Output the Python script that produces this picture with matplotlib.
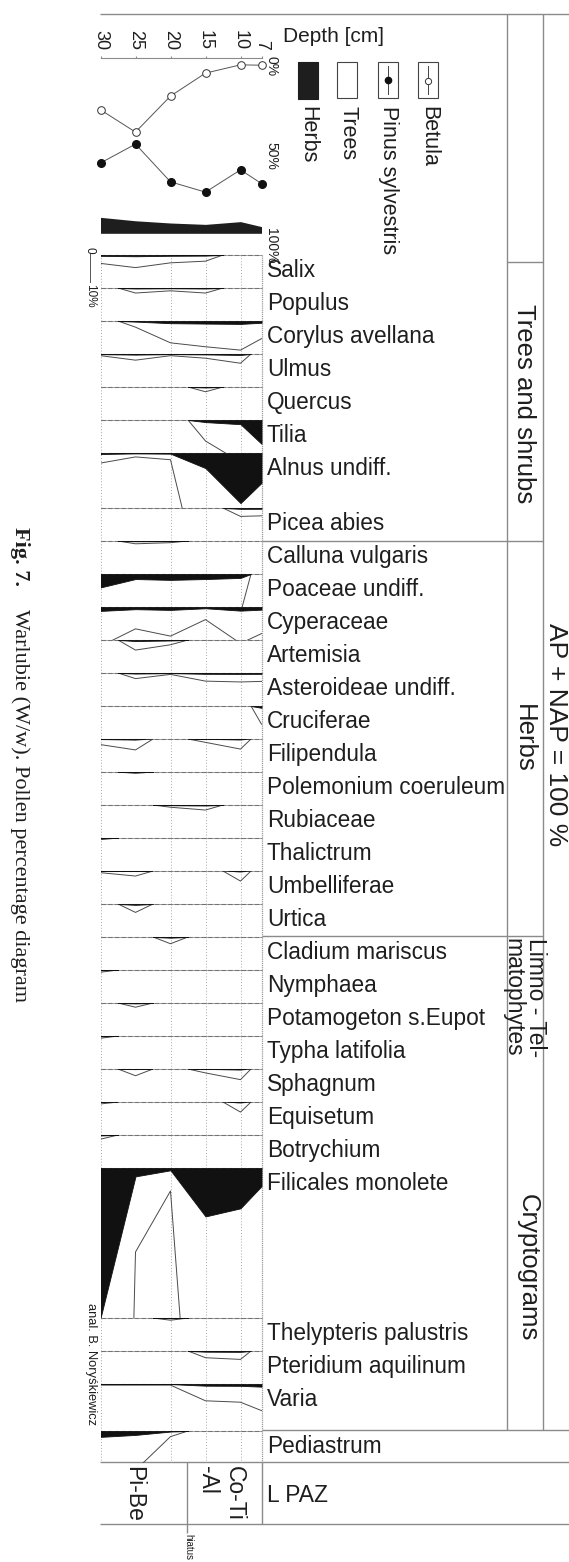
import matplotlib.pyplot as plt
from matplotlib.patches import Rectangle
import numpy as np

plt.rcParams['font.family'] = ['Liberation Sans', 'DejaVu Sans']

W, H = 569, 1562
INK = '#1e1e1e'
FRAME = '#8a8a8a'

# sampling depths [cm]
depth = [30, 25, 20, 15, 10, 7]
grid_depths = [30, 20, 15, 10]

# summary diagram [%]
betula = [28, 41, 20, 6.6, 1.8, 2.0]
pinus = [59, 48, 70, 76, 63, 71]
herbs = [9.3, 7.3, 6.0, 5.2, 6.8, 3.9]

# taxa [%], one value per depth
salix = [0.3, 0.45, 0.28, 0.22, 0, 0]
populus = [0, 0.18, 0.1, 0.18, 0, 0]
corylus = [0, 0.22, 0.78, 0.92, 1.04, 0.63]
ulmus = [0.06, 0.22, 0.06, 0.15, 0.33, 0]
quercus = [0, 0, 0, 0.17, 0, 0]
tilia = [0, 0, 0, 0.75, 1.5, 8.5]
alnus = [0.36, 0.14, 0.24, 5.4, 17.9, 10.7]
picea = [0, 0, 0, 0, 0.3, 0.28]
calluna = [0, 0.1, 0.06, 0, 0, 0]
poaceae = [4.8, 1.8, 2.1, 1.8, 1.4, 0]
cyperaceae = [1.4, 0.78, 1.04, 0.45, 1.3, 0.95]
artemisia = [0, 0.36, 0.17, 0, 0, 0]
asteroideae = [0, 0.2, 0.05, 0.29, 0.32, 0.3]
cruciferae = [0, 0, 0, 0, 0, 0.65]
filipendula = [0.2, 0.39, 0, 0.12, 0.36, 0]
polemonium = [0, 0.05, 0, 0, 0, 0]
rubiaceae = [0, 0, 0.08, 0.18, 0, 0]
thalictrum = [0.06, 0, 0, 0, 0, 0]
umbelliferae = [0.06, 0.18, 0, 0, 0.36, 0]
urtica = [0, 0.3, 0, 0, 0, 0]
cladium = [0, 0, 0.24, 0, 0, 0]
nymphaea = [0.08, 0, 0, 0, 0, 0]
potamogeton = [0, 0.15, 0, 0, 0, 0]
typha = [0.08, 0, 0, 0, 0, 0]
sphagnum = [0, 0.24, 0, 0.14, 0.38, 0]
equisetum = [0.07, 0, 0, 0, 0.36, 0]
botrychium = [0.15, 0, 0, 0, 0, 0]
filicales = [53.6, 3.0, 0.82, 17.3, 14.4, 6.5]
thelypteris = [0, 0, 0.08, 0, 0, 0]
pteridium = [0, 0, 0, 0.24, 0.3, 0]
varia = [0.04, 0.04, 0.04, 0.6, 0.65, 0.95]
pediastrum = [2.1, 1.4, 0.2, 0, 0, 0]

taxa = [
    ('Salix', salix), ('Populus', populus), ('Corylus avellana', corylus),
    ('Ulmus', ulmus), ('Quercus', quercus), ('Tilia', tilia),
    ('Alnus undiff.', alnus), ('Picea abies', picea),
    ('Calluna vulgaris', calluna), ('Poaceae undiff.', poaceae),
    ('Cyperaceae', cyperaceae), ('Artemisia', artemisia),
    ('Asteroideae undiff.', asteroideae), ('Cruciferae', cruciferae),
    ('Filipendula', filipendula), ('Polemonium coeruleum', polemonium),
    ('Rubiaceae', rubiaceae), ('Thalictrum', thalictrum),
    ('Umbelliferae', umbelliferae), ('Urtica', urtica),
    ('Cladium mariscus', cladium), ('Nymphaea', nymphaea),
    ('Potamogeton s.Eupot', potamogeton), ('Typha latifolia', typha),
    ('Sphagnum', sphagnum), ('Equisetum', equisetum),
    ('Botrychium', botrychium), ('Filicales monolete', filicales),
    ('Thelypteris palustris', thelypteris), ('Pteridium aquilinum', pteridium),
    ('Varia', varia), ('Pediastrum', pediastrum),
]
# band heights in pixels (layout)
band_h = [33] * 6 + [55] + [33] * 20 + [150, 33, 33, 47, 32]
PX_PER_PCT = 2.8
EXAG = 10

fig = plt.figure(figsize=(W / 100, H / 100), dpi=100)
ov = fig.add_axes([0, 0, 1, 1])
ov.set_xlim(0, W)
ov.set_ylim(H, 0)
ov.axis('off')


def add_ax(x0, y0, x1, y1):
    ax = fig.add_axes([x0 / W, 1 - y1 / H, (x1 - x0) / W, (y1 - y0) / H])
    ax.set_facecolor('none')
    return ax


def expand(d, v):
    # curve drops to zero half way towards an empty sample
    xs, ys = [], []
    for i in range(len(d)):
        xs.append(d[i])
        ys.append(v[i])
        if i < len(d) - 1 and (v[i] == 0 or v[i + 1] == 0):
            xs.append((d[i] + d[i + 1]) / 2)
            ys.append(0)
    return np.array(xs, float), np.array(ys, float)


def hline(x0, x1, y, **kw):
    ov.plot([x0, x1], [y, y], color=FRAME, lw=1, solid_capstyle='butt', **kw)


def vline(x, y0, y1, **kw):
    ov.plot([x, x], [y0, y1], color=FRAME, lw=1, solid_capstyle='butt', **kw)


X0, X1 = 100.5, 261.5

# ---- summary diagram
sm = add_ax(X0, 58, X1, 233.3)
sm.set_xlim(30, 7)
sm.set_ylim(100, -2.2)
sm.fill_between(depth, 100 - np.array(herbs), 100, color=INK, lw=0)
sm.plot(depth, betula, '-o', color='#555', lw=0.7, ms=5.5, mfc='white', mec='#333',
        mew=0.7, clip_on=False, zorder=4)
sm.plot(depth, pinus, '-o', color='#555', lw=0.7, ms=5.5, mfc='#111', mec='#111',
        clip_on=False, zorder=4)
for s in ['left', 'right', 'bottom']:
    sm.spines[s].set_visible(False)
sm.spines['top'].set_color(FRAME)
sm.xaxis.tick_top()
sm.set_xticks(depth)
sm.set_xticklabels([str(d) for d in depth])
sm.tick_params(axis='x', length=1.5, pad=4, labelsize=13, labelrotation=270, color=FRAME, labelcolor=INK)
sm.yaxis.tick_right()
sm.set_yticks([0, 50, 100])
sm.set_yticklabels(['0%', '50%', '100%'])
sm.tick_params(axis='y', length=0, pad=2, labelsize=10, labelrotation=270, labelcolor=INK)

# legend of summary
ov.text(283, 37, 'Depth [cm]', ha='left', va='center', fontsize=15, color=INK)
ov.add_patch(Rectangle((298, 62), 20, 37, facecolor=INK, edgecolor=INK, lw=0.8))
ov.add_patch(Rectangle((337, 62), 20, 36, facecolor='white', edgecolor='#444', lw=0.8))
ov.add_patch(Rectangle((378, 62), 20, 36, facecolor='white', edgecolor='#444', lw=0.8))
ov.add_patch(Rectangle((418, 62), 20, 36, facecolor='white', edgecolor='#444', lw=0.8))
ov.plot([388, 388], [66, 94], color='#444', lw=0.7)
ov.plot([388], [80], 'o', ms=4.5, color='#111')
ov.plot([428, 428], [66, 94], color='#444', lw=0.7)
ov.plot([428], [81], 'o', ms=4.5, mfc='white', mec='#333', mew=0.7)
for xx, lab in [(308, 'Herbs'), (348, 'Trees'), (389, 'Pinus sylvestris'), (429, 'Betula')]:
    ov.text(xx, 106, lab, rotation=270, ha='center', va='top', fontsize=15.5, color=INK)

# scale bar
ov.text(90, 250, '0', rotation=270, ha='center', va='center', fontsize=8.5, color=INK)
ov.plot([90, 90], [254, 254 + 10 * PX_PER_PCT], color='#555', lw=0.7)
ov.text(90, 284, '10%', rotation=270, ha='center', va='top', fontsize=8.5, color=INK)

# ---- taxa bands
y = 255
for (name, vals), h in zip(taxa, band_h):
    ax = add_ax(X0, y, X1, y + h)
    ax.set_xlim(30, 7)
    ax.set_ylim(h / PX_PER_PCT, 0)
    ax.axis('off')
    ax.axhline(0, color='#9a9a9a', lw=0.8, ls=(0, (4, 2)), clip_on=False, zorder=0)
    for d in grid_depths:
        ax.axvline(d, color='#a8a8a8', lw=0.7, ls=(0, (1, 2)), zorder=0)
    ax.axvline(7, color='#9a9a9a', lw=0.9, ls=(0, (1, 0.7)), clip_on=False, zorder=0)
    xs, ys = expand(depth, vals)
    ax.plot(xs, ys * EXAG, color='#4a4a4a', lw=0.7, zorder=2)
    pos = ys > 0
    near = pos | np.r_[pos[1:], False] | np.r_[False, pos[:-1]]
    ax.fill_between(xs, 0, ys, where=near, color='#111', ec='#111', lw=0.6, zorder=3)
    ov.text(267, y + 15.5, name, ha='left', va='center', fontsize=16.3, color=INK)
    y += h

# ---- frame of the group columns
hline(100, W, 13.5)
vline(507, 13.5, 1430)
vline(543, 13.5, 1430)
hline(507, 543, 262)
hline(262, 543, 541)
hline(262, 543, 936)
hline(262, W, 1430)

ov.text(524, 404, 'Trees and shrubs', rotation=270, ha='center', va='center', fontsize=18.5, color=INK)
ov.text(524, 738, 'Herbs', rotation=270, ha='center', va='center', fontsize=18.5, color=INK)
ov.text(524, 938, 'Limno - Tel-\nmatophytes', rotation=270, ha='center', va='top',
        fontsize=16.5, color=INK, linespacing=0.95, multialignment='left')
ov.text(528, 1268, 'Cryptograms', rotation=270, ha='center', va='center', fontsize=18.5, color=INK)
ov.text(556, 735, 'AP + NAP = 100 %', rotation=270, ha='center', va='center', fontsize=19, color=INK)

# ---- pollen assemblage zones
hline(100, W, 1462)
hline(100, W, 1524)
vline(187, 1462, 1533)
vline(262, 1462, 1524)
ov.text(134, 1466, 'Pi-Be', rotation=270, ha='center', va='top', fontsize=16.5, color=INK)
ov.text(221, 1466, 'Co-Ti\n-Al', rotation=270, ha='center', va='top', fontsize=16.5,
        color=INK, linespacing=1.2, multialignment='left')
ov.text(267, 1495, 'L PAZ', ha='left', va='center', fontsize=16.5, color=INK)
ov.text(188, 1534, 'hiatus', rotation=270, ha='center', va='top', fontsize=7, color=INK)

ov.text(91, 1303, 'anal. B. Noryśkiewicz', rotation=270, ha='center', va='top', fontsize=9.3, color=INK)

# ---- caption
ov.text(20, 527, 'Fig. 7.', rotation=270, ha='center', va='top', fontsize=16,
        fontweight='bold', family=['Liberation Serif', 'DejaVu Serif'], color=INK)
ov.text(20, 609, 'Warlubie (W/w). Pollen percentage diagram', rotation=270, ha='center',
        va='top', fontsize=16, family=['Liberation Serif', 'DejaVu Serif'], color=INK)

fig.savefig('out.png', dpi=100)
